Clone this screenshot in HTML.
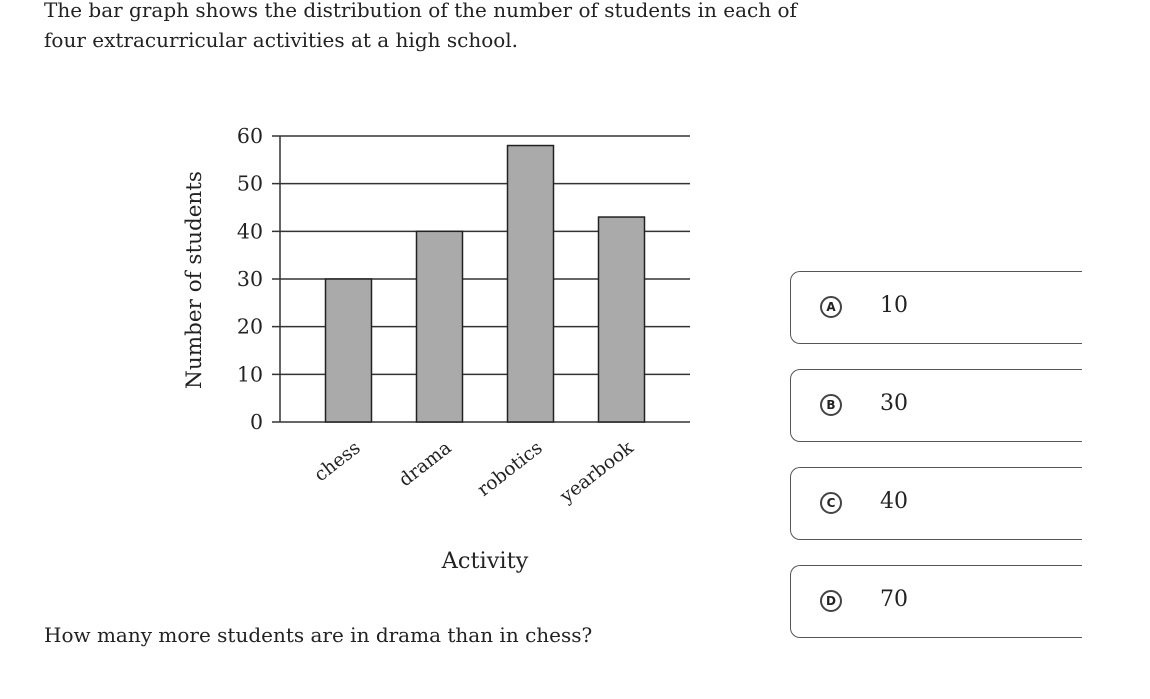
<!DOCTYPE html>
<html><head><meta charset="utf-8"><style>
body{margin:0;width:1150px;height:699px;background:#fff;overflow:hidden;font-family:"DejaVu Serif",serif;color:#222}
.q{position:absolute;left:44px;font-size:20px;line-height:30px}
.opt{position:absolute;left:790px;width:292px;height:73px;border:1.5px solid #555;border-right:none;border-radius:10px 0 0 10px;box-sizing:border-box}
.opt .c{position:absolute;left:29px;top:24px;width:22px;height:22px;border:2px solid #444;border-radius:50%;box-sizing:border-box;font-family:"DejaVu Sans",sans-serif;font-size:12px;font-weight:bold;text-align:center;line-height:19px}
.opt .v{position:absolute;left:89px;top:21px;font-size:22px}
</style></head><body>
<div class="q" style="top:-5px">The bar graph shows the distribution of the number of students in each of<br>four extracurricular activities at a high school.</div>
<div class="q" style="top:620px">How many more students are in drama than in chess?</div>
<svg width="1150" height="699" style="position:absolute;left:0;top:0">
<g id="g"></g>
</svg>
<div class="opt" style="top:271px"><div class="c">A</div><div class="v">10</div></div>
<div class="opt" style="top:369px"><div class="c">B</div><div class="v">30</div></div>
<div class="opt" style="top:467px"><div class="c">C</div><div class="v">40</div></div>
<div class="opt" style="top:565px"><div class="c">D</div><div class="v">70</div></div>
<script>
const categories=["chess","drama","robotics","yearbook"];
const values=[30,40,58,43];
const ticks=[0,10,20,30,40,50,60];
const NS="http://www.w3.org/2000/svg",g=document.getElementById("g");
const y=v=>422-v*(286/60);
const x=i=>348.5+i*91;
function mk(t,a){const e=document.createElementNS(NS,t);for(const k in a)e.setAttribute(k,a[k]);g.appendChild(e);return e;}
ticks.forEach(t=>{
 const l=mk("line",{x1:272,x2:690,y1:y(t),y2:y(t),stroke:"#333","stroke-width":1.5});
 
 
 const tx=mk("text",{x:263,y:y(t)+7,"text-anchor":"end","font-size":20.5,fill:"#222"});tx.textContent=t;
 
 
});
const ax=mk("line",{x1:280,x2:280,y1:y(60),y2:y(0),stroke:"#333","stroke-width":1.5});


categories.forEach((c,i)=>{
 const r=mk("rect",{x:x(i)-23,y:y(values[i]),width:46,height:y(0)-y(values[i]),fill:"#aaa",stroke:"#222","stroke-width":1.5});
 
 
 const ex=x(i)+13, ey=450;
 const t=mk("text",{x:ex,y:ey,"text-anchor":"end","font-size":18.5,fill:"#222",transform:`rotate(-38 ${ex} ${ey})`});t.textContent=c;
 
 
});
const xt=mk("text",{x:485,y:568,"text-anchor":"middle","font-size":22.5,fill:"#222"});xt.textContent="Activity";


const yt=mk("text",{x:0,y:0,"text-anchor":"middle","font-size":21.5,fill:"#222",transform:"translate(201 280) rotate(-90)"});yt.textContent="Number of students";


</script>
</body></html>
